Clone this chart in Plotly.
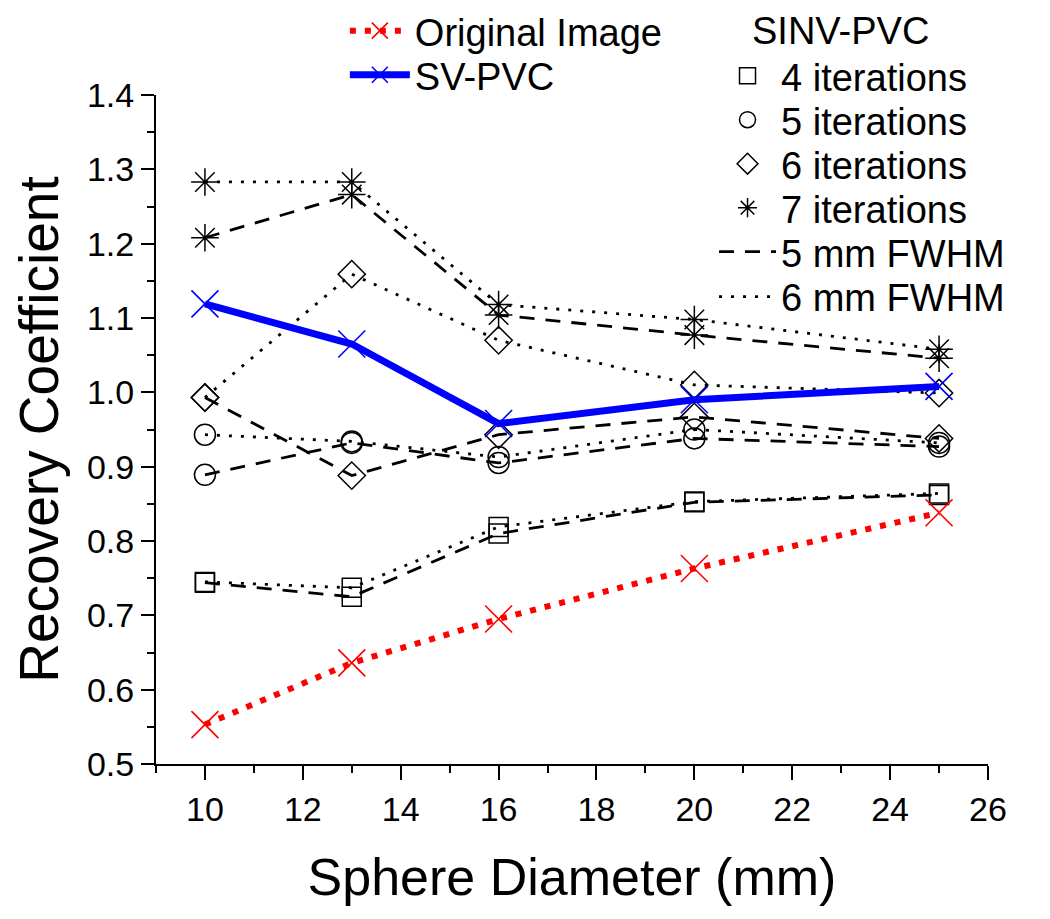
import plotly.graph_objects as go

# ---------------- data ----------------
diameters = [10, 13, 16, 20, 25]
original_image = [0.553, 0.636, 0.695, 0.763, 0.838]
sv_pvc = [1.119, 1.065, 0.958, 0.990, 1.008]

# SINV-PVC, 5 mm FWHM (dashed) and 6 mm FWHM (dotted)
it4_5mm = [0.744, 0.725, 0.810, 0.852, 0.862]
it4_6mm = [0.745, 0.737, 0.819, 0.853, 0.864]
it5_5mm = [0.889, 0.932, 0.905, 0.938, 0.927]
it5_6mm = [0.943, 0.934, 0.913, 0.950, 0.932]
it6_5mm = [0.993, 0.888, 0.943, 0.967, 0.938]
it6_6mm = [0.993, 1.159, 1.070, 1.010, 0.999]
it7_5mm = [1.208, 1.266, 1.104, 1.077, 1.046]
it7_6mm = [1.283, 1.283, 1.118, 1.098, 1.058]

iteration_labels = ["4 iterations", "5 iterations", "6 iterations", "7 iterations"]
fwhm_labels = ["5 mm FWHM", "6 mm FWHM"]
group_title = "SINV-PVC"
x_title = "Sphere Diameter (mm)"
y_title = "Recovery Coefficient"

FONT = "Arial, Liberation Sans, sans-serif"
DASH = "15px,11px"
DOT = "3px,9px"
LEG_FONT = 38
TICK_FONT = 34

symbols = ["square-open", "circle-open", "diamond-open", "asterisk-open"]
sizes = [19, 21, 21, 23]
series_5mm = [it4_5mm, it5_5mm, it6_5mm, it7_5mm]
series_6mm = [it4_6mm, it5_6mm, it6_6mm, it7_6mm]

fig = go.Figure()

for sym, sz, y5, y6 in zip(symbols, sizes, series_5mm, series_6mm):
    for yv, dash in ((y5, DASH), (y6, DOT)):
        fig.add_trace(go.Scatter(
            x=diameters, y=yv, mode="lines+markers",
            line=dict(color="black", width=2.8, dash=dash),
            marker=dict(symbol=sym, size=sz, color="black",
                        line=dict(color="black", width=1.5)),
            showlegend=False))

fig.add_trace(go.Scatter(
    x=diameters, y=original_image, mode="lines+markers", name="Original Image",
    line=dict(color="#ff0000", width=6, dash="6px,9px"),
    marker=dict(symbol="x-thin-open", size=27, color="#ff0000",
                line=dict(color="#ff0000", width=1.6)),
    legend="legend"))

fig.add_trace(go.Scatter(
    x=diameters, y=sv_pvc, mode="lines+markers", name="SV-PVC",
    line=dict(color="#0000ff", width=7),
    marker=dict(symbol="x-thin-open", size=27, color="#0000ff",
                line=dict(color="#0000ff", width=1.6)),
    legend="legend2"))

# legend-only entries for SINV-PVC (each in its own legend box)
for i, (lab, sym, sz) in enumerate(zip(iteration_labels, symbols, sizes)):
    fig.add_trace(go.Scatter(
        x=[None], y=[None], mode="markers", name=lab,
        marker=dict(symbol=sym, size=sz, color="black",
                    line=dict(color="black", width=1.5)),
        legend="legend%d" % (i + 3)))
for i, (lab, dash) in enumerate(zip(fwhm_labels, [DASH, DOT])):
    fig.add_trace(go.Scatter(
        x=[None], y=[None], mode="lines", name=lab,
        line=dict(color="black", width=2.8, dash=dash),
        legend="legend%d" % (i + 7)))


def leg(x, y, w):
    return dict(x=x, y=y, xanchor="left", yanchor="middle",
                bgcolor="rgba(0,0,0,0)", itemwidth=w,
                font=dict(size=LEG_FONT))


left_x = 0.227
right_x = 0.6707
top_row_y = 1.0957
right_ys = [1.0284, 0.9626, 0.8969, 0.8311, 0.7653, 0.6981]

layout_legends = {
    "legend": leg(left_x, top_row_y, 60),
    "legend2": leg(left_x, 1.0299, 60),
}
for k, yy in enumerate(right_ys):
    layout_legends["legend%d" % (k + 3)] = leg(right_x, yy, 57)

fig.update_layout(
    width=1034, height=903,
    paper_bgcolor="white", plot_bgcolor="white",
    margin=dict(l=148, r=54, t=87, b=147, autoexpand=False),
    font=dict(family=FONT, color="black", size=TICK_FONT),
    annotations=[dict(text=group_title, xref="paper", yref="paper",
                      x=0.714, y=top_row_y, xanchor="left", yanchor="middle",
                      showarrow=False, font=dict(size=LEG_FONT))],
    **layout_legends,
)

fig.update_xaxes(
    range=[9, 26], tickvals=[10, 12, 14, 16, 18, 20, 22, 24, 26],
    ticks="outside", ticklen=14, tickwidth=2, tickcolor="black",
    showline=True, linecolor="black", linewidth=2, showgrid=False, zeroline=False,
    minor=dict(dtick=1, tick0=9, ticks="outside", ticklen=7, tickwidth=2, tickcolor="black"),
    tickfont=dict(size=TICK_FONT),
    title=dict(text=x_title, font=dict(size=52), standoff=32))

fig.update_yaxes(
    range=[0.5, 1.4], dtick=0.1, tick0=0.5, tickformat=".1f",
    ticks="outside", ticklen=13, tickwidth=2, tickcolor="black",
    showline=True, linecolor="black", linewidth=2, showgrid=False, zeroline=False,
    minor=dict(dtick=0.05, tick0=0.5, ticks="outside", ticklen=7, tickwidth=2, tickcolor="black"),
    tickfont=dict(size=TICK_FONT),
    title=dict(text=y_title, font=dict(size=55), standoff=37))

fig.write_html("out.html")
